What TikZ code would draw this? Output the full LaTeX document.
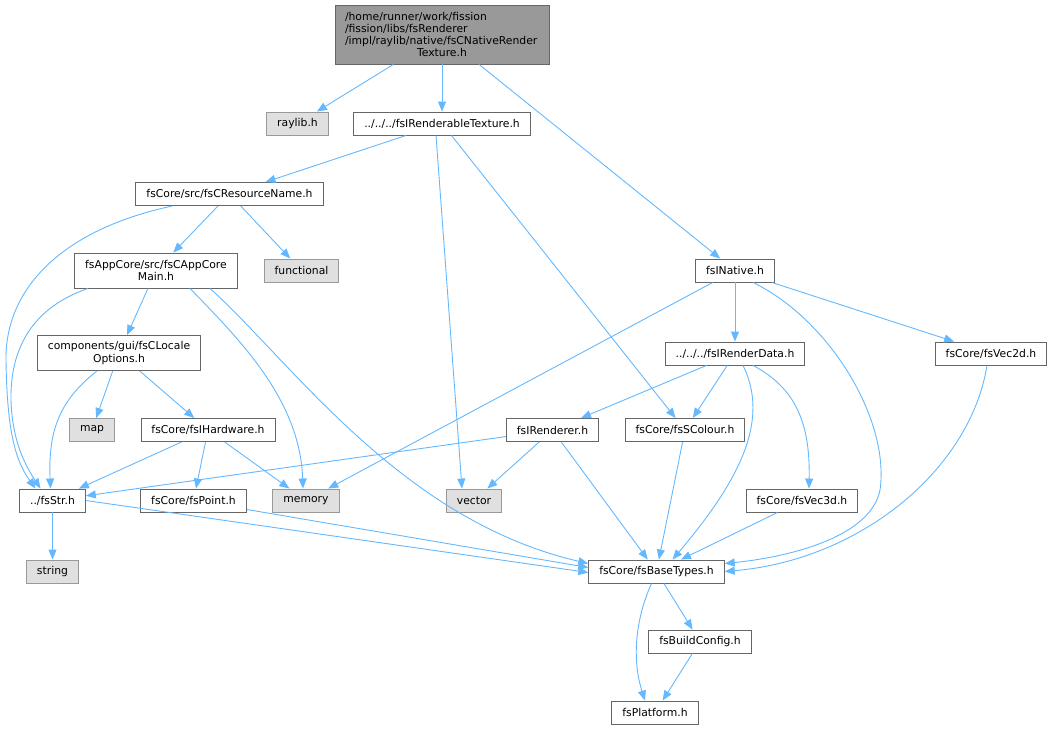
\documentclass[tikz,border=0pt]{standalone}
\usepackage{fontspec}
\setmainfont{DejaVu Sans}
\usetikzlibrary{arrows.meta}
\definecolor{edgeblue}{HTML}{63B8FF}
\definecolor{boxgray}{HTML}{666666}
\definecolor{extgray}{HTML}{999999}
\definecolor{extfill}{HTML}{E0E0E0}
\tikzset{
  file/.style={draw=boxgray, fill=white, rectangle, inner xsep=10.5pt, inner ysep=0pt,
    minimum height=23pt, line width=0.9pt, font=\fontsize{10.8}{12.3}\selectfont},
  sysfile/.style={file, draw=extgray, fill=extfill},
  twoline/.style={file, minimum height=35pt, align=center},
  dep/.style={-{Stealth[length=10pt,width=8pt,inset=0pt]}, color=edgeblue, line width=0.9pt}
}
\begin{document}
\begin{tikzpicture}[x=1pt, y=-1pt]
  \useasboundingbox (0,0) rectangle (1054,729);
  % files
  \node[file, fill=extgray, minimum height=59pt, align=left, text width=194pt, inner xsep=10pt]
    (root) at (442,34.5) {/home/runner/work/fission\\/fission/libs/fsRenderer\\/impl/raylib/native/fsCNativeRender\\\makebox[194pt]{Texture.h}};
  \node[sysfile] (raylib) at (297.5,123.5) {raylib.h};
  \node[file] (rtex) at (442,123.5) {../../../fsIRenderableTexture.h};
  \node[file] (resname) at (229.5,194) {fsCore/src/fsCResourceName.h};
  \node[sysfile] (functional) at (301.5,270.5) {functional};
  \node[twoline] (appcore) at (156,270.5) {fsAppCore/src/fsCAppCore\\Main.h};
  \node[file] (native) at (735,270.5) {fsINative.h};
  \node[twoline] (locale) at (119,353) {components/gui/fsCLocale\\Options.h};
  \node[sysfile] (map) at (92,430) {map};
  \node[file] (hardware) at (208,430) {fsCore/fsIHardware.h};
  \node[file] (str) at (52.5,500.5) {../fsStr.h};
  \node[file] (point) at (193.5,500.5) {fsCore/fsPoint.h};
  \node[sysfile] (memory) at (306,500.5) {memory};
  \node[sysfile] (string) at (52.5,571.5) {string};
  \node[file] (rdata) at (735,353.5) {../../../fsIRenderData.h};
  \node[file] (vectwo) at (991,353.5) {fsCore/fsVec2d.h};
  \node[file] (renderer) at (552.5,430) {fsIRenderer.h};
  \node[file] (colour) at (685,430) {fsCore/fsSColour.h};
  \node[sysfile] (vector) at (474,500.5) {vector};
  \node[file] (vecthree) at (802,500.5) {fsCore/fsVec3d.h};
  \node[file] (basetypes) at (656.5,571.5) {fsCore/fsBaseTypes.h};
  \node[file] (buildcfg) at (700,641.5) {fsBuildConfig.h};
  \node[file] (platform) at (655,712.5) {fsPlatform.h};
  % includes
  \draw[dep] (root) -- (raylib);
  \draw[dep] (root) -- (rtex);
  \draw[dep] (root) -- (native);
  \draw[dep] (rtex) -- (resname);
  \draw[dep] ([xshift=-6pt]rtex.south) -- ([xshift=-12pt]vector.north);
  \draw[dep] (rtex) -- (colour);
  \draw[dep] ([xshift=-57pt]resname.south) .. controls (60,230) and (5,290) .. (6,360)
    .. controls (7,430) and (15,460) .. ([xshift=-17pt]str.north);
  \draw[dep] (resname) -- (appcore);
  \draw[dep] (resname) -- (functional);
  \draw[dep] ([xshift=-68pt]appcore.south) .. controls (40,305) and (10,340) .. (11,400)
    .. controls (12,440) and (25,465) .. ([xshift=-12pt]str.north);
  \draw[dep] (appcore) -- (locale);
  \draw[dep] ([xshift=34pt]appcore.south) .. controls (240,340) and (300,400) .. ([xshift=-3pt]memory.north);
  \draw[dep] ([xshift=54pt]appcore.south) .. controls (290,360) and (400,520) .. ([yshift=8pt]basetypes.west);
  \draw[dep] ([xshift=-22pt]locale.south) .. controls (60,400) and (48,430) .. ([xshift=-2pt]str.north);
  \draw[dep] (locale) -- (map);
  \draw[dep] (locale) -- (hardware);
  \draw[dep] (hardware) -- (str);
  \draw[dep] (hardware) -- (point);
  \draw[dep] (hardware) -- (memory);
  \draw[dep] (str) -- (string);
  \draw[dep] (str.east) -- ([yshift=-1pt]basetypes.west);
  \draw[dep] (point) -- ([yshift=4pt]basetypes.west);
  \draw[dep] (native) -- (memory);
  \draw[dep] (native) -- (rdata);
  \draw[dep] ([xshift=18pt]native.south) .. controls (830,320) and (890,420) .. (880,490)
    .. controls (870,540) and (780,558) .. ([yshift=8pt]basetypes.east);
  \draw[dep] (native) -- (vectwo);
  \draw[dep] (rdata) -- (renderer);
  \draw[dep] (rdata) -- (colour);
  \draw[dep] ([xshift=8pt]rdata.south) .. controls (770,420) and (740,480) .. ([xshift=16pt]basetypes.north);
  \draw[dep] ([xshift=18pt]rdata.south) .. controls (800,390) and (810,430) .. ([xshift=7pt]vecthree.north);
  \draw[dep] (renderer) -- (str);
  \draw[dep] (renderer) -- (vector);
  \draw[dep] (renderer) -- (basetypes);
  \draw[dep] (colour) -- (basetypes);
  \draw[dep] (vecthree) -- (basetypes);
  \draw[dep] ([xshift=-4pt]vectwo.south) .. controls (970,470) and (860,560) .. (basetypes.east);
  \draw[dep] (basetypes) -- (buildcfg);
  \draw[dep] ([xshift=-5pt]basetypes.south) .. controls (635,620) and (632,660) .. ([xshift=-10pt]platform.north);
  \draw[dep] (buildcfg) -- (platform);
\end{tikzpicture}
\end{document}
